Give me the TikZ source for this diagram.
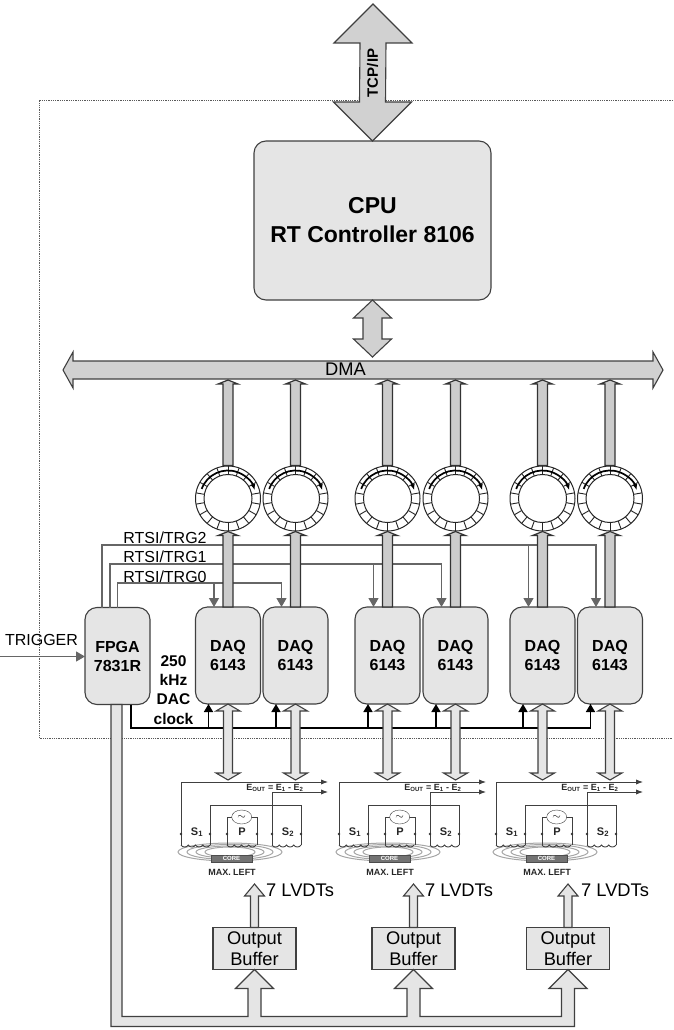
\documentclass[tikz,border=0pt]{standalone}
\usepackage{fontspec}
\setmainfont{Liberation Sans}
\usetikzlibrary{arrows.meta, calc, shapes.geometric}
\newcommand{\twoway}[6][bus]{\draw[#1] (#2) -- ($(#2)+(#4,#6)$) -- ($(#2)+(#5,#6)$) -- ($(#3)+(#5,-#6)$) -- ($(#3)+(#4,-#6)$) -- (#3) -- ($(#3)+(-#4,-#6)$) -- ($(#3)+(-#5,-#6)$) -- ($(#2)+(-#5,#6)$) -- ($(#2)+(-#4,#6)$) -- cycle;}
\newcommand{\oneway}[6][bus]{\draw[#1] (#2) -- ($(#2)+(#4,#6)$) -- ($(#2)+(#5,#6)$) -- ($(#3)+(#5,0)$) -- ($(#3)+(-#5,0)$) -- ($(#2)+(-#5,#6)$) -- ($(#2)+(-#4,#6)$) -- cycle;}
\newcommand{\tipup}[1]{-- ($(#1)+(6.5,19)$) -- ($(#1)+(19,19)$) -- (#1) -- ($(#1)+(-19,19)$) -- ($(#1)+(-6.5,19)$)}
\newcommand{\coil}[1]{\draw[wire] (#1) \foreach \k in {1,2,3,4} {to[bend right=70] ++(7.25,0)};}
\tikzset{lvdt/.pic={
  \foreach \rx/\ry in {52/9,43/7.5,34/6,25/5} \draw[black!35, line width=1pt] (49,70) ellipse [x radius=\rx pt, y radius=\ry pt];
  \draw[wire, -{Latex[length=7pt]}] (0,63) -- (0,0) -- (147,0);
  \draw[wire, -{Latex[length=7pt]}] (91,63) -- (91,10) -- (147,10);
  \draw[wire] (29,63) -- (29,23) -- (120,23) -- (120,63);
  \draw[wire] (46,63) -- (46,35) -- (76,35) -- (76,63);
  \coil{0,63} \coil{46,63} \coil{91,63}
  \foreach \dx in {0,29,46,76,91,120} \fill[black!80] (\dx,52) circle (1.3pt);
  \node[draw=black!75, fill=white, ellipse, minimum width=20pt, minimum height=14pt, inner sep=0pt, font=\fontsize{11}{11}\selectfont] (source) at (60.7,35) {$\sim$};
  \node[fill=black!55, draw=black!70, minimum width=41pt, minimum height=7pt, inner sep=0pt, text=white, font=\fontsize{6}{6}\selectfont\bfseries] (core) at (50.5,76.5) {CORE};
  \node[tiny] (sone) at (16,50) {\fontsize{11}{11}\selectfont S\textsubscript{1}};
  \node[tiny] (prim) at (61,50) {\fontsize{11}{11}\selectfont P};
  \node[tiny] (stwo) at (107,50) {\fontsize{11}{11}\selectfont S\textsubscript{2}};
  \node[tiny] (pos) at (51,90) {MAX. LEFT};
  \node[tiny] (eout) at (94,6) {E\textsubscript{OUT} = E\textsubscript{1} - E\textsubscript{2}};
}}
\begin{document}
\begin{tikzpicture}[x=1pt, y=-1pt,
  block/.style={draw=black!75, fill=black!10, rounded corners=12pt, align=center, inner sep=0pt, outer sep=0pt, line width=1.1pt},
  daq/.style={block, minimum width=65pt, minimum height=97pt, font=\fontsize{16}{19}\selectfont\bfseries},
  ring/.style={draw=black!85, fill=white, circle, minimum size=65pt, inner sep=0pt, line width=1pt},
  bus/.style={draw=black!75, fill=black!10, line width=1.1pt, line join=miter},
  busdark/.style={draw=black!75, fill=black!18, line width=1.1pt},
  shaft/.style={draw=black!80, fill=black!20, line width=1.2pt},
  sig/.style={draw=black!60, line width=1.2pt},
  sigarrow/.style={sig, -{Triangle[length=9pt, width=10pt]}},
  clk/.style={draw=black, line width=1.5pt},
  wire/.style={draw=black!75, line width=.9pt},
  lbl/.style={inner sep=0pt, font=\fontsize{16}{19}\selectfont},
  big/.style={inner sep=0pt, align=center, font=\fontsize{18.3}{21}\selectfont},
  tiny/.style={inner sep=0pt, text=black!85, font=\fontsize{9}{9}\selectfont\bfseries}]
\useasboundingbox (0,0) rectangle (673,1030);
\draw[black!65, densely dotted, line width=.8pt] (673,100) -- (39,100) -- (39,738) -- (673,738);
\coordinate (net) at (373,4);
\coordinate (dmatop) at (0,357);
\coordinate (dmabot) at (0,380);
\coordinate (dmaleft) at (63,370);
\coordinate (dmaright) at (663,370);
\coordinate (lvdtop) at (0,780);
\coordinate (trgtwo) at (150,545);
\coordinate (trgone) at (150,564);
\coordinate (trgzero) at (150,583);
\coordinate (clkline) at (150,728);
\coordinate (trigin) at (0,656.5);
\node[block, minimum width=237pt, minimum height=159pt, font=\fontsize{23}{29}\selectfont\bfseries] (cpu) at (372.5,220.5) {CPU\\RT Controller 8106};
\node[daq] (fpga) at (117.5,656) {FPGA\\7831R};
\foreach \id/\cx in {a/228,b/295.5,c/387.5,d/455.5,e/542.5,f/610} {
  \node[daq] (daq\id) at (\cx,655.5) {DAQ\\6143};
  \node[ring] (ring\id) at (\cx,498.5) {};
  \coordinate (ent\id) at ($(daq\id.north)+(-14,0)$);
  \coordinate (clk\id) at ($(daq\id.south)+(-19.5,0)$);
}
\draw[busdark] (dmaleft) -- ++(10,-18) -- ++(0,9) -- ($(dmaright)+(-10,-9)$) -- ++(0,-9) -- (dmaright) -- ++(-10,18) -- ++(0,-9) -- ($(dmaleft)+(10,9)$) -- ++(0,9) -- cycle;
\node[big] (dmalbl) at (345.5,369) {DMA};
\draw[sigarrow] (fpga.north) |- (trgzero) -| (entb);
\draw[sigarrow] (enta |- trgzero) -- (enta);
\draw[sigarrow] ($(fpga.north)+(-7.5,0)$) |- (trgone) -| (entd);
\draw[sigarrow] (entc |- trgone) -- (entc);
\draw[sigarrow] ($(fpga.north)+(-15.5,0)$) |- (trgtwo) -| (entf);
\draw[sigarrow] (ente |- trgtwo) -- (ente);
\node[lbl] (rtsitwo) at (165,538) {RTSI/TRG2};
\node[lbl] (rtsione) at (165,557) {RTSI/TRG1};
\node[lbl] (rtsizero) at (165,577) {RTSI/TRG0};
\node[lbl] (trigger) at (41.5,640) {TRIGGER};
\draw[sigarrow] (trigin) -- (fpga.west |- trigin);
\node[inner sep=0pt, align=center, font=\fontsize{15.5}{19.3}\selectfont\bfseries] (dacclock) at (173.5,690) {250\\kHz\\DAC\\clock};
\draw[clk] ($(fpga.south)+(13.5,0)$) |- (clkf |- clkline) -- (clkf);
\foreach \id in {a,b,c,d,e,f} {
  \draw[clk, -{Triangle[length=8pt, width=9pt]}] (clk\id |- clkline) -- (clk\id);
  \oneway[shaft]{ring\id.north |- dmabot}{ring\id.north}{10}{5}{4}
  \oneway[shaft]{ring\id.south}{daq\id.north}{10}{5}{4}
  \twoway{daq\id.south}{daq\id.south |- lvdtop}{12}{4.5}{7}
  \foreach \a in {10,30,...,350} \draw[black!85, line width=.9pt] ($(ring\id)+(\a:24pt)$) -- ($(ring\id)+(\a:32.5pt)$);
  \draw[black!85, line width=1pt] (ring\id) circle (24pt);
  \draw[black, line width=1.7pt, -{Latex[length=6pt]}] ($(ring\id)+(160:28pt)$) arc[start angle=160, end angle=17, radius=28pt];
}
\twoway[busdark]{net}{cpu.north}{39}{13}{39}
\node[inner sep=0pt, rotate=90, font=\fontsize{15}{15}\selectfont\bfseries] (tcpip) at (372.5,73) {TCP/IP};
\twoway[busdark]{cpu.south}{cpu.south |- dmatop}{19}{9.5}{18}
\pic (lvdta) at (181,782) {lvdt};
\pic (lvdtb) at (339,782) {lvdt};
\pic (lvdtc) at (496,782) {lvdt};
\foreach \id/\cx/\tx in {a/254.5/266,b/413.5/425,c/568/581} {
  \node[block, rounded corners=0pt, minimum width=83pt, minimum height=42pt, big] (buf\id) at (\cx,948.5) {Output\\Buffer};
  \coordinate (tip\id) at (\cx,884);
  \oneway{tip\id}{buf\id.north}{10}{4}{12}
  \node[big, anchor=west] (count\id) at (\tx,890) {7 LVDTs};
}
\draw[bus] ($(fpga.south)+(-6.5,0)$) |- ($(bufc.south)+(6.5,57)$) \tipup{bufc.south} -- ($(bufc.south)+(-6.5,47)$) -- ($(bufb.south)+(6.5,47)$) \tipup{bufb.south} -- ($(bufb.south)+(-6.5,47)$) -- ($(bufa.south)+(6.5,47)$) \tipup{bufa.south} -- ($(bufa.south)+(-6.5,47)$) -| ($(fpga.south)+(4.5,0)$) -- cycle;
\end{tikzpicture}
\end{document}
